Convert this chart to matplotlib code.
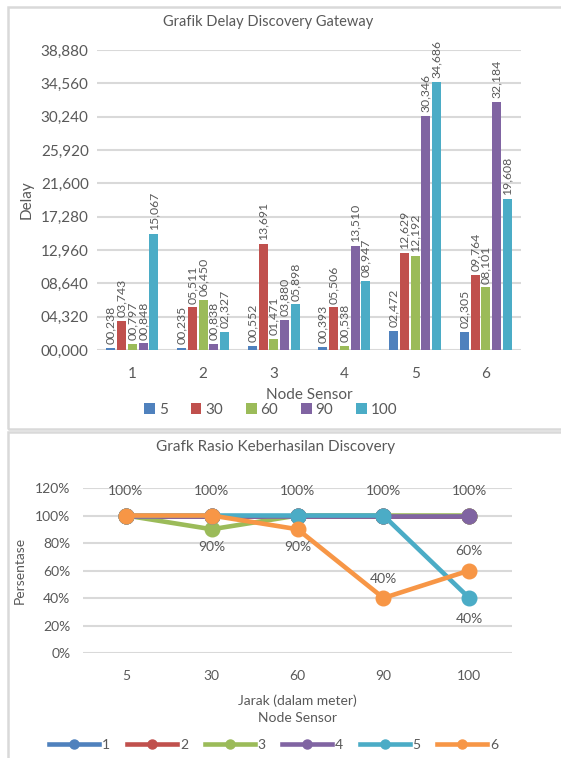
import numpy as np
import matplotlib as mpl
import matplotlib.pyplot as plt
from matplotlib.patches import Rectangle
from matplotlib.lines import Line2D

mpl.rcParams['font.family'] = ['Lato', 'DejaVu Sans']
grey = '#595959'
gridc = '#D9D9D9'

# --- data: delay (top chart) ---
nodes = ['1', '2', '3', '4', '5', '6']
jarak_labels = ['5', '30', '60', '90', '100']
delay_5 = [0.238, 0.235, 0.552, 0.393, 2.472, 2.305]
delay_30 = [3.743, 5.511, 13.691, 5.506, 12.629, 9.764]
delay_60 = [0.797, 6.450, 1.471, 0.538, 12.192, 8.101]
delay_90 = [0.848, 0.838, 3.880, 13.510, 30.346, 32.184]
delay_100 = [15.067, 2.327, 5.898, 8.947, 34.686, 19.608]
delay_yticks = [0, 4.32, 8.64, 12.96, 17.28, 21.6, 25.92, 30.24, 34.56, 38.88]

# --- data: rasio keberhasilan (bottom chart) ---
jarak = ['5', '30', '60', '90', '100']
rasio_1 = [100, 100, 100, 100, 100]
rasio_2 = [100, 100, 100, 100, 100]
rasio_3 = [100, 90, 100, 100, 100]
rasio_4 = [100, 100, 100, 100, 100]
rasio_5 = [100, 100, 100, 100, 40]
rasio_6 = [100, 100, 90, 40, 60]
rasio_yticks = [0, 20, 40, 60, 80, 100, 120]

bar_colors = ['#4F81BD', '#C0504D', '#9BBB59', '#8064A2', '#4BACC6']
line_colors = ['#4F81BD', '#C0504D', '#9BBB59', '#8064A2', '#4BACC6', '#F79646']


def fmt(v):
    return f"{v:06.3f}".replace('.', ',')


fig = plt.figure(figsize=(5.61, 7.58), dpi=100)

# chart frames
fig.add_artist(Rectangle((0.0143, 0.434), 1.2, 0.557, transform=fig.transFigure,
                         fill=False, edgecolor=gridc, lw=1.8))
fig.add_artist(Rectangle((0.0143, -0.2), 1.2, 0.630, transform=fig.transFigure,
                         fill=False, edgecolor=gridc, lw=1.8))

# ---------------- top: bar chart ----------------
ax = fig.add_axes([0.173, 0.5383, 0.756, 0.3958])
series = [delay_5, delay_30, delay_60, delay_90, delay_100]
x = np.arange(len(nodes))
handles = []
for i, (vals, col) in enumerate(zip(series, bar_colors)):
    xpos = x + (i - 2) * 0.152
    b = ax.bar(xpos, vals, width=0.127, color=col, zorder=3, label=jarak_labels[i])
    handles.append(b)
    for xp, v in zip(xpos, vals):
        ax.text(xp, v + 0.5, fmt(v), rotation=90, ha='center', va='bottom',
                fontsize=8.8, color=grey, zorder=4)

ax.set_xlim(-0.5, 5.5)
ax.set_ylim(0, 38.88)
ax.set_yticks(delay_yticks)
ax.set_yticklabels([fmt(t) for t in delay_yticks])
ax.set_xticks(x)
ax.set_xticklabels(nodes)
ax.grid(axis='y', color=gridc, lw=1.5, zorder=0)
for s in ax.spines.values():
    s.set_visible(False)
ax.tick_params(length=0, labelsize=11, colors=grey)
ax.tick_params(axis='x', pad=12)
ax.tick_params(axis='y', pad=6)
ax.set_xlabel('Node Sensor', fontsize=11, color=grey, labelpad=5)
ax.set_ylabel('Delay', fontsize=11, color=grey, labelpad=5)
fig.text(0.478, 0.971, 'Grafik Delay Discovery Gateway', ha='center', va='center',
         fontsize=10.5, color=grey)
fig.legend(handles=handles, loc='center', bbox_to_anchor=(0.483, 0.459), ncol=5,
           frameon=False, fontsize=11, labelcolor=grey, handlelength=0.7,
           handleheight=0.7, handletextpad=0.25, columnspacing=1.5)

# ---------------- bottom: line chart ----------------
ax2 = fig.add_axes([0.148, 0.1385, 0.765, 0.2177])
rasio = [rasio_1, rasio_2, rasio_3, rasio_4, rasio_5, rasio_6]
xi = np.arange(len(jarak))
for i, (vals, col) in enumerate(zip(rasio, line_colors)):
    ax2.plot(xi, vals, color=col, lw=3.3, marker='o', markersize=10.5,
             label=str(i + 1), zorder=3 + i, solid_capstyle='round')

# data labels: (series index, point index, offset in points)
label_specs = [(0, 0, 18), (0, 1, 18), (0, 2, 18), (0, 3, 18), (0, 4, 18),
               (2, 1, -13), (5, 2, -13), (5, 3, 14), (5, 4, 14), (4, 4, -15)]
for si, pi, off in label_specs:
    v = rasio[si][pi]
    ax2.annotate(f"{v}%", (xi[pi], v), xytext=(0, off), textcoords='offset points',
                 ha='center', va='center', fontsize=10, color=grey, zorder=20)

ax2.set_xlim(-0.5, 4.5)
ax2.set_ylim(0, 120)
ax2.set_yticks(rasio_yticks)
ax2.set_yticklabels([f"{t}%" for t in rasio_yticks])
ax2.set_xticks(xi)
ax2.set_xticklabels(jarak)
ax2.grid(axis='y', color=gridc, lw=1.5, zorder=0)
for s in ax2.spines.values():
    s.set_visible(False)
ax2.tick_params(length=0, labelsize=10, colors=grey)
ax2.tick_params(axis='x', pad=12)
ax2.tick_params(axis='y', pad=9)
ax2.set_xlabel('Jarak (dalam meter)\nNode Sensor', fontsize=10, color=grey,
               labelpad=9, linespacing=1.5)
ax2.set_ylabel('Persentase', fontsize=10, color=grey, labelpad=7)
fig.text(0.492, 0.410, 'Grafk Rasio Keberhasilan Discovery', ha='center', va='center',
         fontsize=11, color=grey)

leg_handles = [Line2D([], [], color=c, lw=3.3, marker='o', markersize=6.5)
               for c in line_colors]
fig.legend(leg_handles, [str(i + 1) for i in range(6)], loc='center',
           bbox_to_anchor=(0.488, 0.017), ncol=6, frameon=False, fontsize=10,
           labelcolor=grey, handlelength=3.6, handletextpad=0.2, columnspacing=1.2)

fig.savefig('out.png', dpi=100)
